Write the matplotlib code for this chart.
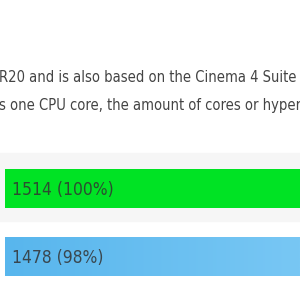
import numpy as np
import matplotlib as mpl
mpl.use('Agg')
import matplotlib.pyplot as plt

# text lines visible in the crop
lines = ['R20 and is also based on the Cinema 4 Suite',
         's one CPU core, the amount of cores or hyperthreading']
scores = [1514, 1478]
percents = [100, 98]
labels = ['%d (%d%%)' % (s, p) for s, p in zip(scores, percents)]

fam = ['DejaVu Sans']

fig = plt.figure(figsize=(3, 3), dpi=100)
ax = fig.add_axes([0, 0, 1, 1])
ax.set_xlim(0, 300)
ax.set_ylim(300, 0)
ax.axis('off')

# paragraph text
for i, t in enumerate(lines):
    ax.text(-1, 82 + i * 28, t, fontsize=10.55, color='#444444', stretch='condensed',
            family=fam, va='baseline', ha='left')

# grey highlight row
ax.axhspan(153, 221, color='#f6f6f6', zorder=0)

px_per_point = 0.4
bar_y = [188.5, 256.5]
bar_h = 39
bars = ax.barh(bar_y, [s * px_per_point for s in scores], height=bar_h,
               left=5, color=['#00e324', '#62bdf0'], zorder=2)

# blue bar gets a light left-to-right gradient
b = bars[1]
grad = np.linspace(0, 1, 256).reshape(1, -1)
cm = mpl.colors.LinearSegmentedColormap.from_list('bl', ['#58b6ed', '#78c7f4'])
im = ax.imshow(grad, cmap=cm, aspect='auto', zorder=3,
               extent=[5, 300, bar_y[1] + bar_h / 2, bar_y[1] - bar_h / 2])
im.set_clip_path(b)

for y, lab in zip(bar_y, labels):
    ax.text(12, y + 1.5, lab, fontsize=12.5, color='#333333', alpha=0.85,
            stretch='condensed', family=fam, va='center', ha='left', zorder=4)

ax.set_xlim(0, 300)
ax.set_ylim(300, 0)
fig.savefig('out.png', dpi=100)
